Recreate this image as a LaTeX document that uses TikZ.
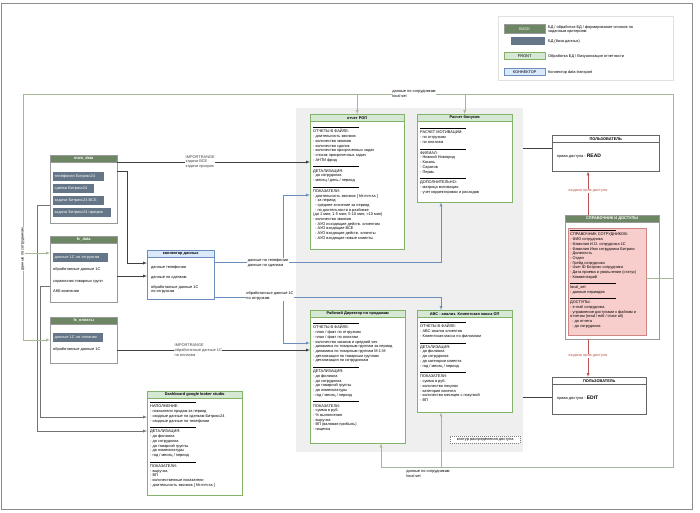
\documentclass[tikz,border=0pt]{standalone}
\usepackage{fontspec}
\setmainfont{Liberation Sans}
\usetikzlibrary{positioning,arrows,calc}

\definecolor{backgreen}{HTML}{6D8764}
\definecolor{dbslate}{HTML}{647687}
\definecolor{frontfill}{HTML}{D5E8D4}
\definecolor{frontline}{HTML}{82B366}
\definecolor{connfill}{HTML}{DAE8FC}
\definecolor{connline}{HTML}{6C8EBF}
\definecolor{accfill}{HTML}{F8CECC}
\definecolor{accline}{HTML}{B85450}
\definecolor{panelgray}{HTML}{EFEFEF}
\definecolor{linkgreen}{HTML}{A3B896}

\newcommand{\tsz}{\fontsize{3.9}{4.7}\selectfont}
\newcommand{\secthead}[1]{\rule[0.8pt]{46pt}{0.25pt}\\#1}

\tikzset{box/.style={draw=black!40,fill=white,anchor=north west,inner sep=0pt}}
\tikzset{backhead/.style={draw=black!40,fill=backgreen,text=white,anchor=north west,inner sep=0pt,minimum height=7pt,font=\tsz\bfseries}}
\tikzset{fronthead/.style={draw=frontline,fill=frontfill,anchor=north west,inner sep=0pt,minimum height=7pt,font=\tsz\bfseries}}
\tikzset{connhead/.style={draw=connline,fill=connfill,anchor=north west,inner sep=0pt,minimum height=7pt,font=\tsz\bfseries}}
\tikzset{userhead/.style={draw=black!60,fill=white,anchor=north west,inner sep=0pt,minimum height=7pt,font=\tsz\bfseries}}
\tikzset{dbitem/.style={fill=dbslate,text=white,anchor=north west,inner xsep=1.5pt,inner ysep=0pt,minimum height=9pt,align=left,text width=#1,font=\tsz}}
\tikzset{txt/.style={anchor=north west,inner sep=0pt,align=left,font=\tsz}}
\tikzset{lbl/.style={fill=white,inner sep=0.6pt,align=left,font=\tsz}}
\tikzset{link/.style={-latex,thin,black!75}}
\tikzset{graylink/.style={-latex,thin,black!55}}
\tikzset{bluelink/.style={-latex,thin,connline}}
\tikzset{greenline/.style={thin,linkgreen}}
\tikzset{greenlink/.style={-latex,thin,linkgreen}}
\tikzset{redlink/.style={-latex,thin,accline}}

\begin{document}
\begin{tikzpicture}[x=1pt,y=-1pt]
	\useasboundingbox (0,0) rectangle (700,512);
	\draw[black!45,line width=0.6pt] (1.5,3) rectangle (692,509);

	%% legend
	\node[box,draw=black!12,minimum width=175pt,minimum height=64pt] (legend) at (498,16) {};
	\node[backhead,minimum width=41pt,minimum height=9pt,font=\tsz] (lgback) at (504,24) {BACK};
	\node[box,draw=none,fill=dbslate,minimum width=34pt,minimum height=8pt] (lgdb) at (511,37) {};
	\node[fronthead,minimum width=41pt,font=\tsz] (lgfront) at (504,52) {FRONT};
	\node[connhead,minimum width=41pt,font=\tsz] (lgconn) at (504,68) {КОННЕКТОР};
	\node[txt] at (548,25) {БД / обработка БД / формирование списков по\\заданным критериям};
	\node[txt] at (548,39) {БД (база данных)};
	\node[txt] at (548,54) {Обработка БД / Визуализация отчетности};
	\node[txt] at (548,70) {Коннектор data-transport};

	%% gray panel
	\node[box,draw=none,fill=panelgray,minimum width=227pt,minimum height=344pt] (panel) at (296,108) {};
	\node[box,draw=black!50,dash pattern=on 1pt off 1pt,minimum width=70pt,minimum height=7pt,font=\tsz] (panellbl) at (450,436) {контур распределения доступа};

	%% main_data
	\node[box,minimum width=67pt,minimum height=68pt] (maindata) at (50,155) {};
	\node[backhead,minimum width=67pt] (maindatahd) at (maindata.north west) {main\_data};
	\node[dbitem=48pt] (mdtel) at (53,172) {телефония Битрикс24};
	\node[dbitem=38pt] (mddeal) at (53,184) {сделки Битрикс24};
	\node[dbitem=48pt] (mdtask) at (53,196) {задачи Битрикс24 ВСЕ};
	\node[dbitem=55pt] (mdlate) at (53,208) {задачи Битрикс24 просрок};

	%% fc_data
	\node[box,minimum width=67pt,minimum height=66pt] (fcdata) at (50,236) {};
	\node[backhead,minimum width=67pt] (fcdatahd) at (fcdata.north west) {fc\_data};
	\node[dbitem=52pt] (fdship) at (53,253) {данные 1С по отгрузкам};
	\node[txt] (fdtxt) at (53,267) {обработанные данные 1С\\[7.4pt]справочник товарных групп\\[5.3pt]АКБ компании};

	%% fc_payments
	\node[box,minimum width=67pt,minimum height=46pt] (fcpay) at (50,317) {};
	\node[backhead,minimum width=67pt] (fcpayhd) at (fcpay.north west) {fc\_оплаты};
	\node[dbitem=47pt] (fppay) at (53,333) {данные 1С по оплатам};
	\node[txt] (fptxt) at (53,347) {обработанные данные 1С};

	%% connector
	\node[box,draw=connline,minimum width=67pt,minimum height=49pt] (conn) at (147,250) {};
	\node[connhead,minimum width=67pt] (connhd) at (conn.north west) {коннектор данных};
	\node[txt] (conntxt) at (151,265) {данные телефонии\\[5.3pt]данные по сделкам\\[5.3pt]обработанные данные 1С\\по отгрузкам};

	%% dashboard
	\node[box,draw=frontline,minimum width=95pt,minimum height=104pt] (dash) at (147,391) {};
	\node[fronthead,minimum width=95pt] (dashhd) at (dash.north west) {Dashboard google looker studio};
	\node[txt] (dashtxt) at (150,402) {\secthead{НАПОЛНЕНИЕ:}\\
		- показатели продаж за период\\
		- сводные данные по сделкам Битрикс24\\
		- сводные данные по телефонии\\[1.5pt]
		\secthead{ДЕТАЛИЗАЦИЯ:}\\
		- до филиала\\
		- до сотрудника\\
		- до товарной группы\\
		- до номенклатуры\\
		- год / месяц / период\\[1.5pt]
		\secthead{ПОКАЗАТЕЛИ:}\\
		- выручка\\
		- ВП\\
		- количественные показатели\\
		- длительность звонков [ hh:mm:ss ]};

	%% report ROP
	\node[box,draw=frontline,minimum width=94pt,minimum height=135pt] (rop) at (310,114) {};
	\node[fronthead,minimum width=94pt] (rophd) at (rop.north west) {отчет РОП};
	\node[txt] (roptxt) at (313,127) {\secthead{ОТЧЕТЫ В ФАЙЛЕ:}\\
		- длительность звонков\\
		- количество звонков\\
		- количество сделок\\
		- количество просроченных задач\\
		- список просроченных задач\\
		- АНТИ фрод\\[1.5pt]
		\secthead{ДЕТАЛИЗАЦИЯ:}\\
		- до сотрудника\\
		- месяц / день / период\\[1.5pt]
		\secthead{ПОКАЗАТЕЛИ:}\\
		- длительность звонков [ hh:mm:ss ]\\
		\hspace*{2pt}- за период\\
		\hspace*{2pt}- среднее значение за период\\
		\hspace*{2pt}- по длительности в разбивке\\
		(до 1 мин; 1-5 мин; 5-10 мин; >10 мин)\\
		- количество звонков\\
		\hspace*{2pt}- АУО исходящие действ. клиентам\\
		\hspace*{2pt}- АУО входящие ВСЕ\\
		\hspace*{2pt}- АУО входящие действ. клиенты\\
		\hspace*{2pt}- АУО входящие новые клиенты};

	%% bonus calculation
	\node[box,draw=frontline,minimum width=95pt,minimum height=88pt] (bonus) at (417,114) {};
	\node[fronthead,minimum width=95pt] (bonushd) at (bonus.north west) {Расчет бонусов};
	\node[txt] (bonustxt) at (420,128) {\secthead{РАСЧЕТ МОТИВАЦИИ:}\\
		- по отгрузкам\\
		- по оплатам\\[1.5pt]
		\secthead{ФИЛИАЛ:}\\
		- Нижний Новгород\\
		- Казань\\
		- Саратов\\
		- Пермь\\[1.5pt]
		\secthead{ДОПОЛНИТЕЛЬНО:}\\
		- матрица мотивации\\
		- учет корректировки и расходов};

	%% sales director
	\node[box,draw=frontline,minimum width=95pt,minimum height=133pt] (dir) at (310,310) {};
	\node[fronthead,minimum width=95pt] (dirhd) at (dir.north west) {Рабочий Директор по продажам};
	\node[txt] (dirtxt) at (313,323) {\secthead{ОТЧЕТЫ В ФАЙЛЕ:}\\
		- план / факт по отгрузкам\\
		- план / факт по оплатам\\
		- количество заказов и средний чек\\
		- динамика по товарным группам за период\\
		- динамика по товарным группам М-1-М\\
		- детализация по товарным группам\\
		- детализация по сотрудникам\\[1.5pt]
		\secthead{ДЕТАЛИЗАЦИЯ:}\\
		- до филиала\\
		- до сотрудника\\
		- до товарной группы\\
		- до номенклатуры\\
		- год / месяц / период\\[1.5pt]
		\secthead{ПОКАЗАТЕЛИ:}\\
		- сумма в руб.\\
		- \% выполнения\\
		- выручка\\
		- ВП (валовая прибыль)\\
		- наценка};

	%% ABC analysis
	\node[box,draw=frontline,minimum width=95pt,minimum height=102pt] (abc) at (417,310) {};
	\node[fronthead,minimum width=95pt] (abchd) at (abc.north west) {АВС - анализ. Клиентская масса ОП};
	\node[txt] (abctxt) at (420,322) {\secthead{ОТЧЕТЫ В ФАЙЛЕ:}\\
		- АВС-анализ клиентов\\
		- Клиентская масса по филиалам\\[1.5pt]
		\secthead{ДЕТАЛИЗАЦИЯ:}\\
		- до филиала\\
		- до сотрудника\\
		- до категории клиента\\
		- год / месяц / период\\[1.5pt]
		\secthead{ПОКАЗАТЕЛИ:}\\
		- сумма в руб.\\
		- количество покупок\\
		- категория клиента\\
		- количество месяцев с покупкой\\
		- ВП};

	%% users and access
	\node[box,draw=black!60,minimum width=107pt,minimum height=36pt] (userread) at (552,135) {};
	\node[userhead,minimum width=107pt] (userreadhd) at (userread.north west) {ПОЛЬЗОВАТЕЛЬ};
	\node[txt] at (557,154) {права доступа - {\fontsize{5}{6}\selectfont\bfseries READ}};
	\node[box,draw=black!60,minimum width=94pt,minimum height=37pt] (useredit) at (552,377) {};
	\node[userhead,minimum width=94pt] (useredithd) at (useredit.north west) {ПОЛЬЗОВАТЕЛЬ};
	\node[txt] at (557,396) {права доступа - {\fontsize{5}{6}\selectfont\bfseries EDIT}};

	\node[box,minimum width=94pt,minimum height=124pt] (acc) at (565,215) {};
	\node[backhead,minimum width=94pt] (acchd) at (acc.north west) {СПРАВОЧНИК И ДОСТУПЫ};
	\node[box,draw=accline!70,fill=accfill,minimum width=78pt,minimum height=107pt] (accbody) at (568,228) {};
	\node[txt] (acctxt) at (570,230) {\secthead{СПРАВОЧНИК СОТРУДНИКОВ:}\\
		- ФИО сотрудника\\
		- Фамилия И.О. сотрудника 1С\\
		- Фамилия Имя сотрудника Битрикс\\
		- Должность\\
		- Отдел\\
		- Грейд сотрудника\\
		- User ID Битрикс сотрудника\\
		- Дата приема и увольнения (статус)\\
		- Комментарий\\[1pt]
		\secthead{local\_set}\\
		- данные периодов\\[1pt]
		\secthead{ДОСТУПЫ:}\\
		- e-mail сотрудника\\
		- управление доступами к файлам и\\
		отчетам (read / edit / close all)\\
		\hspace*{2pt}- до отчета\\
		\hspace*{2pt}- до сотрудника};

	%% connectors: sources -> connector / reports
	\coordinate (mdturn) at (127,171);
	\draw[link] (maindata.east |- mdturn) -- (mdturn) |- (conn.west |- 0,263);
	\draw[link] (fcdata.east |- 0,276) -- (conn.west |- 0,276);
	\draw[link] (maindata.east |- 0,162) -- (rop.west |- 0,162)
		node[lbl,pos=0.43] {IMPORTRANGE\\задачи ВСЕ\\задачи просрок};
	\draw[link] (fcpay.east |- 0,350) -- (dir.west |- 0,350)
		node[lbl,pos=0.42] {IMPORTRANGE\\обработанные данные 1С\\по оплатам};

	%% connector -> reports
	\coordinate (bsplit) at (283,262);
	\coordinate (osplit) at (283,297);
	\coordinate (bonusturn) at (441,262);
	\coordinate (abcturn) at (441,297);
	\draw[bluelink] (conn.east |- bsplit) -- (bsplit) |- (rop.west |- 0,195);
	\draw[bluelink] (bsplit) -- (bonusturn) -- (bonusturn |- bonus.south);
	\draw[bluelink] (conn.east |- osplit) -- (osplit) |- (dir.west |- 0,343);
	\draw[bluelink] (osplit) -- (abcturn) -- (abcturn |- abc.north);
	\node[lbl] at (268,263) {данные по телефонии\\данные по сделкам};
	\node[lbl] at (270,296) {обработанные данные 1С\\по отгрузкам};

	%% sources -> dashboard
	\draw[graylink] (maindata.west |- 0,205) -- (37,205) |- (dash.west |- 0,431);
	\draw[graylink] (fcdata.west |- 0,286) -- (40,286) |- (dash.west |- 0,417);

	%% access rights
	\draw[redlink] (acc.north -| 588,0) -- (userread.south -| 588,0)
		node[lbl,pos=0.55] {выдача прав доступа};
	\draw[redlink] (acc.south -| 588,0) -- (useredit.north -| 588,0)
		node[lbl,pos=0.45] {выдача прав доступа};
	\draw[thin,black!75] (userread.west |- 0,148) -- (panel.east |- 0,148);
	\draw[thin,black!75] (useredit.west |- 0,397) -- (panel.east |- 0,397);

	%% employee data (local set)
	\coordinate (topleft) at (23,94);
	\coordinate (topright) at (673,94);
	\coordinate (botright) at (673,467);
	\coordinate (botleft) at (381,467);
	\draw[greenline] ([yshift=4pt]accbody.east) -| (topright) -- (topleft) -- (23,340);
	\draw[greenline] (topright) -- (botright) -- (botleft);
	\draw[greenlink] (rop.north |- topleft) -- (rop.north);
	\draw[greenlink] (bonus.north |- topleft) -- (bonus.north);
	\draw[greenlink] (23,253) -- (fcdata.west |- 0,253);
	\draw[greenlink] (23,340) -- (fcpay.west |- 0,340);
	\draw[greenlink] (botleft) -- (botleft |- dir.south);
	\draw[greenlink] (441,467) -- (441,0 |- abc.south);
	\node[lbl] at (414,94) {данные по сотрудникам\\local set};
	\node[lbl] at (428,474) {данные по сотрудникам\\local set};
	\node[lbl,rotate=90] at (23,249) {данные по сотрудникам};
\end{tikzpicture}
\end{document}
